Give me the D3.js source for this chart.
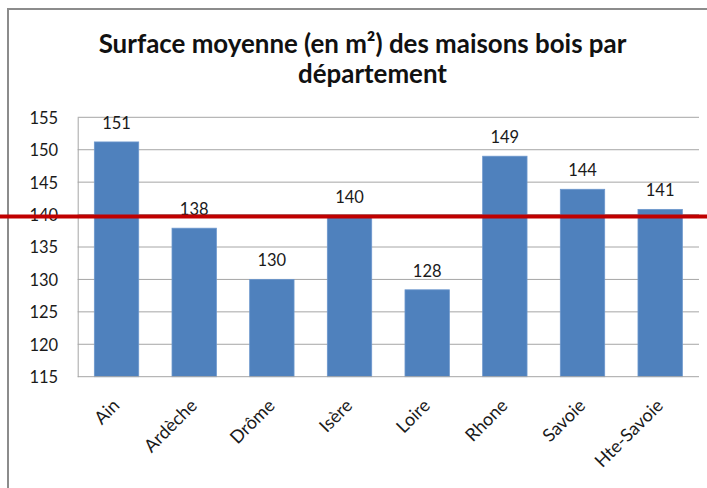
<!DOCTYPE html>
<html><head><meta charset="utf-8">
<script src="https://cdn.jsdelivr.net/npm/d3@7"></script>
<style>
html,body{margin:0;padding:0;background:#fff;}
svg{display:block;}
text{font-family:Lato,"Open Sans",sans-serif;}
</style></head>
<body>
<script>
const categories = ["Ain","Ardèche","Drôme","Isère","Loire","Rhone","Savoie","Hte-Savoie"];
const surfaces = [151.2,137.9,130.0,139.8,128.4,149.0,143.9,140.8];
const yTicks = [115,120,125,130,135,140,145,150,155];
const referenceLine = 139.7;
const titleLines = ["Surface moyenne (en m²) des maisons bois par","département"];

(function(){
const W=707,H=488;
const svg=d3.select("body").append("svg").attr("width",W).attr("height",H);
svg.append("rect").attr("width",W).attr("height",H).attr("fill","#fff");

svg.append("path").attr("d","M8,488V9H707").attr("fill","none").attr("stroke","#8c8c8c").attr("stroke-width",2);

const pLeft=77.7,pRight=699,pTop=117.3,pBottom=376.7;
const x=d3.scaleBand().domain(categories).range([pLeft,pRight]).paddingInner(0.4286).paddingOuter(0.2143);
const y=d3.scaleLinear().domain([115,155]).range([pBottom,pTop]);

svg.append("g").selectAll("line").data(yTicks.slice(1)).join("line")
  .attr("x1",pLeft).attr("x2",pRight).attr("y1",d=>y(d)).attr("y2",d=>y(d))
  .attr("stroke","#a6a6a6").attr("stroke-width",1);

const yAxis=d3.axisLeft(y).tickValues(yTicks).tickSize(0).tickPadding(0).tickFormat(d3.format("d"));
const gy=svg.append("g").attr("transform",`translate(${pLeft},0)`).call(yAxis);
gy.select(".domain").attr("stroke","#a6a6a6").attr("stroke-width",1);
gy.selectAll("text").attr("x",-19.5).attr("dy","0.36em").attr("font-size",16.5).attr("fill","#1a1a1a")
  .attr("font-family","Lato,'Open Sans',sans-serif");

svg.append("g").selectAll("rect").data(categories).join("rect")
  .attr("x",d=>x(d)).attr("width",x.bandwidth())
  .attr("y",(d,i)=>y(surfaces[i])).attr("height",(d,i)=>pBottom-y(surfaces[i]))
  .attr("fill","#4f81bd").attr("stroke","#6c97cd").attr("stroke-width",0.8);

svg.append("line").attr("x1",pLeft).attr("x2",pRight).attr("y1",pBottom).attr("y2",pBottom)
  .attr("stroke","#a6a6a6").attr("stroke-width",1);

svg.append("g").selectAll("text").data(categories).join("text")
  .attr("x",d=>x(d)+x.bandwidth()/2).attr("y",(d,i)=>y(surfaces[i])-13)
  .attr("text-anchor","middle").attr("font-size",16.5).attr("fill","#1a1a1a")
  .text((d,i)=>d3.format(".0f")(surfaces[i]));

svg.append("g").selectAll("text").data(categories).join("text")
  .attr("transform",d=>`translate(${x(d)+x.bandwidth()/2+4},${pBottom+30}) rotate(-45)`)
  .attr("text-anchor","end").attr("font-size",18).attr("fill","#1a1a1a").text(d=>d);

const tg=svg.append("g").attr("font-weight","bold").attr("fill","#111").attr("text-anchor","middle");
const t1=tg.append("text").attr("x",362.5).attr("y",53).attr("font-size",23).text(titleLines[0]);
tg.append("text").attr("x",372.5).attr("y",83).attr("font-size",23).text(titleLines[1]);
const w=t1.node().getComputedTextLength();
const fs=23*528/w;
tg.selectAll("text").attr("font-size",fs);

svg.append("line").attr("x1",0).attr("x2",W).attr("y1",y(referenceLine)).attr("y2",y(referenceLine))
  .attr("stroke","#c00000").attr("stroke-width",4);
})();
</script>
</body></html>
